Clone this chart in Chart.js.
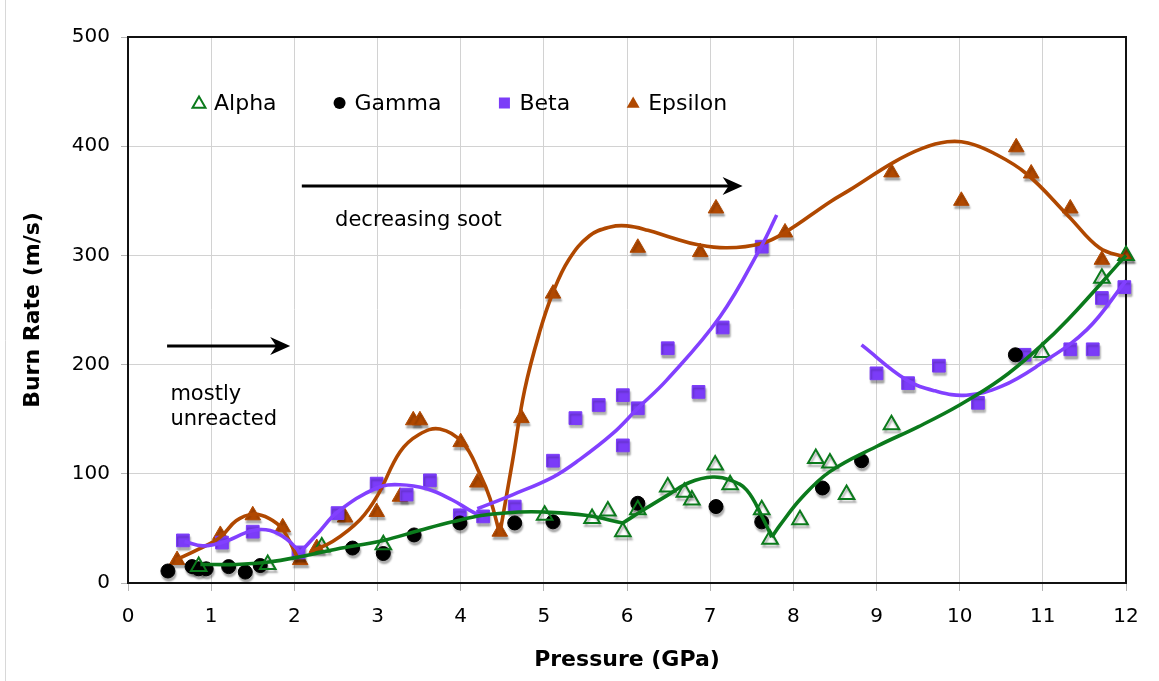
<!DOCTYPE html>
<html><head><meta charset="utf-8">
<script src="https://cdn.jsdelivr.net/npm/chart.js@4/dist/chart.umd.min.js"></script>
<style>html,body{margin:0;padding:0;background:#fff;overflow:hidden}</style>
</head><body>
<canvas id="c" width="1159" height="681"></canvas>
<script>
// ---------- data ----------
const alpha = [[0.85,15],[1.68,17],[2.33,33],[3.07,35],[5.01,62],[5.58,59],[5.77,66],[5.95,47],[6.13,67],[6.49,88],[6.69,83],[6.78,76],[7.06,108],[7.24,90],[7.62,67],[7.72,40],[8.08,58],[8.27,114],[8.44,110],[8.64,81],[9.18,145],[10.99,211],[11.71,279],[12,300]];
const gamma = [[0.48,11],[0.77,15],[0.85,13],[0.94,13],[1.21,15],[1.41,10],[1.59,16],[2.70,32],[3.07,27],[3.44,44],[3.99,55],[4.65,55],[5.11,56],[6.13,73],[7.07,70],[7.62,56],[8.35,87],[8.82,112],[10.67,209]];
const beta = [[0.66,39],[1.13,37],[1.50,47],[2.05,28],[2.52,64],[2.99,91],[3.35,81],[3.63,94],[3.99,62],[4.27,61],[4.65,70],[5.11,112],[5.38,151],[5.66,163],[5.95,172],[5.95,126],[6.13,160],[6.49,215],[6.86,175],[7.15,234],[7.62,308],[9.0,192],[9.38,183],[9.75,199],[10.22,165],[10.78,209],[11.33,214],[11.6,214],[11.71,261],[11.98,271]];
const epsilon = [[0.59,21],[1.11,44],[1.50,62],[1.86,51],[2.07,21],[2.27,32],[2.61,60],[2.99,65],[3.27,79],[3.43,149],[3.51,149],[4.0,129],[4.2,92],[4.47,47],[4.73,151],[5.11,265],[6.13,307],[6.88,303],[7.07,343],[7.9,321],[9.18,376],[10.02,350],[10.68,399],[10.86,375],[11.33,343],[11.71,296],[12,300]];

// hand-drawn trend curves
const alphaCurve1 = [[0.87,17],[1.3,17],[1.67,19],[2.07,24],[2.5,31],[3.07,39],[3.5,48],[3.9,56],[4.27,62],[4.71,65],[5.0,65],[5.5,62],[5.95,55]];
const alphaCurve2 = [[5.95,55],[6.2,67],[6.48,80],[6.75,92],[7.03,97],[7.25,94],[7.44,85],[7.63,60],[7.74,42]];
const alphaCurve3 = [[7.74,42],[7.84,53],[8.1,78],[8.44,102],[9.0,125],[9.5,143],[10.0,163],[10.5,187],[10.96,216],[11.3,241],[12,300]];
const betaCurve1 = [[0.68,38],[0.9,34],[1.13,37],[1.5,48],[1.71,48],[1.91,40],[2.07,28]];
const betaCurve2 = [[2.07,28],[2.3,47],[2.52,65],[2.99,87],[3.27,90],[3.6,86],[3.9,76],[4.1,67],[4.27,60]];
const betaCurve3 = [[4.2,68],[4.63,81],[5.11,97],[5.43,113],[5.83,137],[6.13,160],[6.48,186],[7.12,244],[7.62,309],[7.8,337]];
const betaCurve4 = [[8.82,218],[9.36,186],[9.7,176],[10.08,172],[10.5,180],[10.96,200],[11.53,232],[12,277]];
const epsCurve1 = [[0.57,21],[0.85,31],[1.11,42],[1.3,57],[1.5,63],[1.7,59],[1.86,49],[2.04,23]];
const epsCurve2 = [[2.2,29],[2.46,38],[2.79,58],[3.0,80],[3.27,120],[3.5,136],[3.75,141],[4.03,128],[4.23,100],[4.35,78],[4.47,45]];
const epsCurve3 = [[4.47,45],[4.62,110],[4.77,177],[4.95,230],[5.11,266],[5.3,296],[5.55,318],[5.8,326],[6.0,327],[6.25,323],[6.55,316],[6.84,310],[7.2,307],[7.62,311],[7.9,321],[8.44,349],[8.68,360],[9.2,385],[9.55,398],[9.85,404],[10.1,403],[10.4,394],[10.8,375],[11.32,335],[11.68,307],[12,298]];

const seriesNames = ['Alpha','Gamma','Beta','Epsilon'];
const xTicks = [0,1,2,3,4,5,6,7,8,9,10,11,12];
const yTicks = [0,100,200,300,400,500];
const xTitle = 'Pressure (GPa)';
const yTitle = 'Burn Rate (m/s)';
const notes = [
  {type:'arrow', x0:0.47, x1:1.95, y:217},
  {type:'text', x:0.51, y:168, text:'mostly'},
  {type:'text', x:0.51, y:145, text:'unreacted'},
  {type:'arrow', x0:2.09, x1:7.39, y:364},
  {type:'text', x:2.49, y:327, text:'decreasing soot'}
];

// ---------- styling ----------
const FONT = "'DejaVu Sans', Verdana, sans-serif";
const GREEN = '#0b7a1c', BLACK = '#000000', PURPLE = '#7b3cf8', BROWN = '#b04800';
const PURPLE_LINE = '#8240ff';
Chart.defaults.font.family = FONT;
Chart.defaults.color = '#000';

const toXY = a => a.map(p => ({x:p[0], y:p[1]}));

function markerSet(label, data, style, color, fill, radius, bw) {
  return {label, data: toXY(data), showLine:false, pointStyle:style, pointRadius:radius, pointHoverRadius:radius,
    borderColor:color, backgroundColor:fill, pointBorderWidth:bw, borderWidth:bw, order:1, clip:false, shadow:true};
}
function curveSet(data, color) {
  return {label:'_curve', data: toXY(data), showLine:true, pointRadius:0, pointHoverRadius:0, borderColor:color,
    backgroundColor:color, borderWidth:3.6, tension:0.4, order:0, clip:false, fill:false};
}

const datasets = [
  markerSet(seriesNames[0], alpha, 'triangle', GREEN, 'rgba(255,255,255,0)', 9, 2),
  markerSet(seriesNames[1], gamma, 'circle', BLACK, BLACK, 7, 1),
  markerSet(seriesNames[2], beta, 'rect', PURPLE, PURPLE, 9, 1),
  markerSet(seriesNames[3], epsilon, 'triangle', BROWN, BROWN, 9, 1),
  curveSet(alphaCurve1, GREEN), curveSet(alphaCurve2, GREEN), curveSet(alphaCurve3, GREEN),
  curveSet(betaCurve1, PURPLE_LINE), curveSet(betaCurve2, PURPLE_LINE), curveSet(betaCurve3, PURPLE_LINE), curveSet(betaCurve4, PURPLE_LINE),
  curveSet(epsCurve1, BROWN), curveSet(epsCurve2, BROWN), curveSet(epsCurve3, BROWN)
];

// ---------- plugins ----------
const bgPlugin = {
  id:'bg',
  beforeDraw(chart) {
    const ctx = chart.ctx;
    ctx.save();
    ctx.fillStyle = '#fff';
    ctx.fillRect(0,0,chart.width,chart.height);
    ctx.strokeStyle = '#d8d8d8'; ctx.lineWidth = 1;
    ctx.beginPath(); ctx.moveTo(5.5,0); ctx.lineTo(5.5,chart.height); ctx.stroke();
    ctx.restore();
  },
  beforeDatasetsDraw(chart) {
    const {ctx, chartArea:a} = chart;
    ctx.save();
    ctx.strokeStyle = '#111'; ctx.lineWidth = 2;
    ctx.beginPath();
    ctx.moveTo(a.left, a.top); ctx.lineTo(a.right, a.top); ctx.lineTo(a.right, a.bottom);
    ctx.stroke();
    ctx.restore();
  }
};

const shadowPlugin = {
  id:'shadow',
  beforeDatasetDraw(chart, args) {
    const ds = chart.data.datasets[args.index];
    if (ds.shadow) {
      const ctx = chart.ctx;
      ctx.save();
      ctx.shadowColor = 'rgba(0,0,0,0.32)';
      ctx.shadowBlur = 2; ctx.shadowOffsetX = 1; ctx.shadowOffsetY = 3;
    }
  },
  afterDatasetDraw(chart, args) {
    const ds = chart.data.datasets[args.index];
    if (ds.shadow) chart.ctx.restore();
  }
};

function drawTri(ctx, x, y, r) {
  ctx.beginPath();
  for (let k = 0; k < 3; k++) {
    const ang = -Math.PI/2 + k*2*Math.PI/3;
    const px = x + r*Math.cos(ang), py = y + r*Math.sin(ang);
    if (k === 0) ctx.moveTo(px,py); else ctx.lineTo(px,py);
  }
  ctx.closePath();
}

const annoPlugin = {
  id:'anno',
  afterDraw(chart) {
    const {ctx, scales:{x, y}, chartArea:a} = chart;
    ctx.save();
    notes.forEach(n => {
      if (n.type === 'arrow') {
        const X0 = x.getPixelForValue(n.x0), X1 = x.getPixelForValue(n.x1), Y = Math.round(y.getPixelForValue(n.y));
        ctx.strokeStyle = '#000'; ctx.fillStyle = '#000'; ctx.lineWidth = 3;
        ctx.beginPath(); ctx.moveTo(X0, Y); ctx.lineTo(X1 - 10, Y); ctx.stroke();
        ctx.beginPath();
        ctx.moveTo(X1, Y); ctx.lineTo(X1 - 20, Y - 9); ctx.lineTo(X1 - 14, Y); ctx.lineTo(X1 - 20, Y + 9);
        ctx.closePath(); ctx.fill();
      } else {
        ctx.font = `21px ${FONT}`; ctx.fillStyle = '#000';
        ctx.textAlign = 'left'; ctx.textBaseline = 'alphabetic';
        ctx.fillText(n.text, x.getPixelForValue(n.x), y.getPixelForValue(n.y));
      }
    });
    // legend inside the plot
    const ly = a.top + 66;
    let lx = a.left + 71;
    ctx.font = `22px ${FONT}`; ctx.textBaseline = 'middle'; ctx.textAlign = 'left';
    seriesNames.forEach((name, i) => {
      if (i === 0) { ctx.strokeStyle = GREEN; ctx.lineWidth = 2; drawTri(ctx, lx, ly + 1, 7.5); ctx.stroke(); }
      if (i === 1) { ctx.fillStyle = BLACK; ctx.beginPath(); ctx.arc(lx, ly, 6, 0, Math.PI*2); ctx.fill(); }
      if (i === 2) { ctx.fillStyle = PURPLE; ctx.fillRect(lx - 5.5, ly - 5.5, 11, 11); }
      if (i === 3) { ctx.fillStyle = BROWN; drawTri(ctx, lx, ly + 1, 7.5); ctx.fill(); }
      ctx.fillStyle = '#000';
      const tx = lx + 15;
      ctx.fillText(name, tx, ly + 1);
      lx = tx + ctx.measureText(name).width + 63;
    });
    ctx.restore();
  }
};

new Chart(document.getElementById('c'), {
  type:'scatter',
  data:{datasets},
  plugins:[bgPlugin, shadowPlugin, annoPlugin],
  options:{
    responsive:false, animation:false,
    layout:{padding:{top:37, right:33, bottom:0, left:0}},
    plugins:{legend:{display:false}, tooltip:{enabled:false}},
    scales:{
      x:{type:'linear', min:0, max:12,
        afterBuildTicks: s => { s.ticks = xTicks.map(v => ({value:v})); },
        ticks:{font:{size:20}, color:'#000', padding:14},
        grid:{color:'#d2d2d2', lineWidth:1, tickLength:8, tickColor:'#b5b5b5', drawTicks:true},
        border:{color:'#111', width:2},
        title:{display:true, text:xTitle, font:{size:22, weight:'bold'}, color:'#000', padding:{top:0, bottom:8}},
        afterFit: s => { s.height = 98; }
      },
      y:{type:'linear', min:0, max:500,
        afterBuildTicks: s => { s.ticks = yTicks.map(v => ({value:v})); },
        ticks:{font:{size:20}, color:'#000', padding:11},
        grid:{color:'#d2d2d2', lineWidth:1, tickLength:7, tickColor:'#b5b5b5', drawTicks:true},
        border:{color:'#111', width:2},
        title:{display:true, text:yTitle, font:{size:22, weight:'bold'}, color:'#000', padding:{top:20, bottom:0}},
        afterFit: s => { s.width = 128; }
      }
    }
  }
});
</script>
</body></html>
